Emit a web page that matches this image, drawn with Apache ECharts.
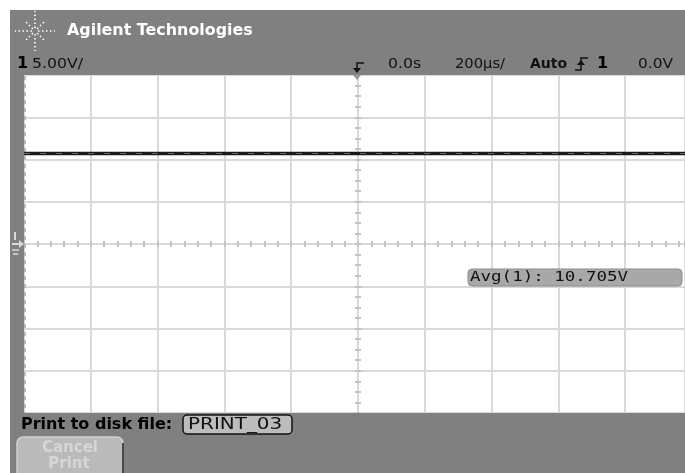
<!DOCTYPE html>
<html>
<head>
<meta charset="utf-8">
<script src="https://cdn.jsdelivr.net/npm/echarts@6/dist/echarts.min.js"></script>
<style>
html,body{margin:0;padding:0;background:#fff;}
#c{width:685px;height:473px;}
</style>
</head>
<body>
<div id="c"></div>
<script>
// ---- data ----
const timeUs = [-1000, -800, -600, -400, -200, 0, 200, 400, 600, 800, 979];
const voltage = [10.705, 10.705, 10.705, 10.705, 10.705, 10.705, 10.705, 10.705, 10.705, 10.705, 10.705];
const xRange = [-1000, 979];      // 200 us/div, screen cut at right edge
const yRange = [-20, 20];         // 5 V/div, 8 divisions
const headerLabels = ['5.00V/', '0.0s', '200µs/', 'Auto', '1', '0.0V'];
const avgLabel = 'Avg(1): 10.705V';
const fileName = 'PRINT_03';

const chart = echarts.init(document.getElementById('c'), null, {renderer: 'canvas'});
const GRAY = '#808080';
const GRID = '#d9d9d9';
const TICK = '#c4c4c4';
const F = '"DejaVu Sans", Verdana, sans-serif';
const FM = '"DejaVu Sans Mono", monospace';
const grid = {left: 24, top: 75, right: 0, height: 338};

function star(cx, cy, r) {
  const out = [];
  for (let i = 0; i < 8; i++) {
    const a = i * Math.PI / 4;
    const rr = r * (i % 2 ? 0.75 : 1);
    out.push({type: 'line', shape: {x1: cx + Math.cos(a) * 3, y1: cy + Math.sin(a) * 3,
      x2: cx + Math.cos(a) * rr, y2: cy + Math.sin(a) * rr},
      style: {stroke: '#fff', lineWidth: 1.6, lineDash: [1.5, 2.5]}, z: 20});
  }
  return out;
}
function txt(x, y, text, font, fill, extra) {
  return Object.assign({type: 'text', x: x, y: y, z: 21,
    style: {text: text, fill: fill, font: font, textVerticalAlign: 'middle'}}, extra || {});
}

chart.setOption({
  animation: false,
  backgroundColor: '#ffffff',
  grid: [grid],
  xAxis: [
    {type: 'value', min: xRange[0], max: xRange[1], interval: 200,
     axisLine: {show: false}, axisTick: {show: false}, axisLabel: {show: false},
     splitLine: {show: true, lineStyle: {color: GRID, width: 2}}},
    {type: 'value', min: xRange[0], max: xRange[1], interval: 40,
     axisLine: {show: true, onZero: true, lineStyle: {color: GRID, width: 2}},
     axisTick: {show: true, inside: false, length: 3, lineStyle: {color: TICK, width: 2}},
     axisLabel: {show: false}, splitLine: {show: false}},
    {type: 'value', min: xRange[0], max: xRange[1], interval: 40,
     axisLine: {show: false, onZero: true},
     axisTick: {show: true, inside: true, length: 3, lineStyle: {color: TICK, width: 2}},
     axisLabel: {show: false}, splitLine: {show: false}}
  ],
  yAxis: [
    {type: 'value', min: yRange[0], max: yRange[1], interval: 5,
     axisLine: {show: false}, axisTick: {show: false}, axisLabel: {show: false},
     splitLine: {show: true, lineStyle: {color: GRID, width: 2}}},
    {type: 'value', min: yRange[0], max: yRange[1], interval: 1.25,
     axisLine: {show: true, onZero: true, lineStyle: {color: GRID, width: 2}},
     axisTick: {show: true, inside: false, length: 3, lineStyle: {color: TICK, width: 2}},
     axisLabel: {show: false}, splitLine: {show: false}},
    {type: 'value', min: yRange[0], max: yRange[1], interval: 1.25,
     axisLine: {show: false, onZero: true},
     axisTick: {show: true, inside: true, length: 3, lineStyle: {color: TICK, width: 2}},
     axisLabel: {show: false}, splitLine: {show: false}}
  ],
  series: [
    {type: 'line', xAxisIndex: 0, yAxisIndex: 0,
     data: timeUs.map((t, i) => [t, voltage[i]]),
     showSymbol: false, symbol: 'none',
     lineStyle: {color: '#1a1a1a', width: 3.5}, z: 10, silent: true},
    {type: 'line', xAxisIndex: 0, yAxisIndex: 0,
     data: timeUs.map((t, i) => [t, voltage[i]]),
     showSymbol: false, symbol: 'none',
     lineStyle: {color: '#6a6a6a', width: 1, type: [6, 10]}, z: 11, silent: true},
    {type: 'line', xAxisIndex: 1, yAxisIndex: 1, data: [], silent: true},
    {type: 'line', xAxisIndex: 2, yAxisIndex: 2, data: [], silent: true}
  ],
  graphic: [
    // gray surround
    {type: 'rect', shape: {x: 10, y: 10, width: 675, height: 65}, style: {fill: GRAY}, z: 5},
    {type: 'rect', shape: {x: 10, y: 10, width: 14, height: 463}, style: {fill: GRAY}, z: 5},
    {type: 'rect', shape: {x: 10, y: 413, width: 675, height: 60}, style: {fill: GRAY}, z: 5},
    {type: 'line', shape: {x1: 25, y1: 76, x2: 25, y2: 413}, style: {stroke: '#a8a8a8', lineWidth: 1.5, lineDash: [4, 4]}, z: 6},
    ...star(35, 31, 20),
    txt(67, 31, 'Agilent Technologies', 'bold 15px ' + F, '#fff', {scaleX: 1.06}),
    txt(17, 64, '1', 'bold 16px ' + F, '#000'),
    txt(32, 64, headerLabels[0], '14px ' + F, '#111', {scaleX: 1.12}),
    // trigger position marker
    {type: 'polyline', shape: {points: [[364, 63], [357, 63], [357, 70]]}, style: {stroke: '#111', lineWidth: 1.5, fill: null}, z: 20},
    {type: 'polygon', shape: {points: [[353, 68], [361, 68], [357, 73]]}, style: {fill: '#111'}, z: 20},
    {type: 'polygon', shape: {points: [[353, 75], [361, 75], [357, 80]]}, style: {fill: '#9a9a9a'}, z: 20},
    txt(388, 64, headerLabels[1], '14px ' + F, '#111', {scaleX: 1.12}),
    txt(455, 64, headerLabels[2], '14px ' + F, '#111', {scaleX: 1.05}),
    txt(530, 64, headerLabels[3], 'bold 14px ' + F, '#111'),
    {type: 'polyline', shape: {points: [[575, 70], [581, 70], [581, 58], [588, 58]]}, style: {stroke: '#111', lineWidth: 1.5, fill: null}, z: 20},
    {type: 'polygon', shape: {points: [[577, 65], [585, 65], [581, 60]]}, style: {fill: '#111'}, z: 20},
    txt(597, 64, headerLabels[4], 'bold 16px ' + F, '#000'),
    txt(638, 64, headerLabels[5], '14px ' + F, '#111', {scaleX: 1.1}),
    // ground marker
    {type: 'line', shape: {x1: 15, y1: 232, x2: 15, y2: 240}, style: {stroke: '#d8d8d8', lineWidth: 2}, z: 20},
    {type: 'line', shape: {x1: 12, y1: 244, x2: 20, y2: 244}, style: {stroke: '#d8d8d8', lineWidth: 2}, z: 20},
    {type: 'polygon', shape: {points: [[19, 240], [24, 244], [19, 248]]}, style: {fill: '#d8d8d8'}, z: 20},
    {type: 'line', shape: {x1: 12, y1: 250, x2: 19, y2: 250}, style: {stroke: '#d8d8d8', lineWidth: 1.5}, z: 20},
    {type: 'line', shape: {x1: 13, y1: 254, x2: 18, y2: 254}, style: {stroke: '#d8d8d8', lineWidth: 1.5}, z: 20},
    // avg box
    {type: 'rect', shape: {x: 468, y: 269, width: 214, height: 17, r: 4}, style: {fill: '#a8a8a8', stroke: '#8c8c8c', lineWidth: 1}, z: 20},
    txt(470, 277.5, avgLabel, '14px ' + FM, '#111', {scaleX: 1.25}),
    // bottom
    txt(21, 425, 'Print to disk file:', 'bold 16px ' + F, '#000'),
    {type: 'rect', shape: {x: 183, y: 415, width: 109, height: 19, r: 4}, style: {fill: '#bcbcbc', stroke: '#111', lineWidth: 1.5}, z: 20},
    txt(188, 425, fileName, '15px ' + F, '#111', {scaleX: 1.33}),
    {type: 'rect', shape: {x: 17, y: 437, width: 106, height: 42, r: 6}, style: {fill: '#bababa', stroke: '#d0d0d0', lineWidth: 1.5}, z: 20},
    {type: 'line', shape: {x1: 123, y1: 443, x2: 123, y2: 473}, style: {stroke: '#222', lineWidth: 1.5}, z: 21},
    {type: 'text', x: 70, y: 448, z: 21, style: {text: 'Cancel', fill: '#d6d6d6', font: 'bold 15px ' + F, textAlign: 'center', textVerticalAlign: 'middle'}},
    {type: 'text', x: 69, y: 464, z: 21, style: {text: 'Print', fill: '#d6d6d6', font: 'bold 15px ' + F, textAlign: 'center', textVerticalAlign: 'middle'}}
  ]
});
</script>
</body>
</html>
